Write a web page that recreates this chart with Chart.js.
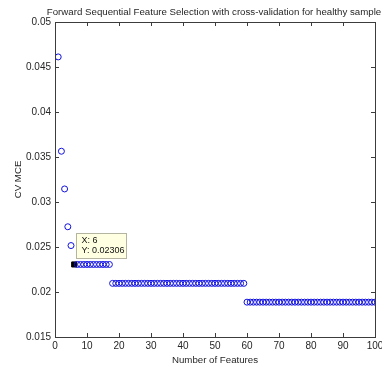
<!DOCTYPE html>
<html>
<head>
<meta charset="utf-8">
<script src="https://cdn.jsdelivr.net/npm/chart.js@4.4.1/dist/chart.umd.min.js"></script>
<style>
  html, body { margin: 0; padding: 0; background: #fff; }
  #wrap { width: 382px; height: 367px; position: relative; }
</style>
</head>
<body>
<div id="wrap"><canvas id="fsChart" width="382" height="367"></canvas></div>
<script>
// -------------------------
// Data
// -------------------------
const chartTitle = "Forward Sequential Feature Selection with cross-validation for healthy sample";

const featureCounts = [
    1, 2, 3, 4, 5, 6, 7, 8, 9, 10,
    11, 12, 13, 14, 15, 16, 17, 18, 19, 20,
    21, 22, 23, 24, 25, 26, 27, 28, 29, 30,
    31, 32, 33, 34, 35, 36, 37, 38, 39, 40,
    41, 42, 43, 44, 45, 46, 47, 48, 49, 50,
    51, 52, 53, 54, 55, 56, 57, 58, 59, 60,
    61, 62, 63, 64, 65, 66, 67, 68, 69, 70,
    71, 72, 73, 74, 75, 76, 77, 78, 79, 80,
    81, 82, 83, 84, 85, 86, 87, 88, 89, 90,
    91, 92, 93, 94, 95, 96, 97, 98, 99, 100
];

const cvMce = [
    0.04612, 0.03564, 0.03145, 0.02725, 0.02516, 0.02306, 0.02306, 0.02306, 0.02306, 0.02306,
    0.02306, 0.02306, 0.02306, 0.02306, 0.02306, 0.02306, 0.02306, 0.02096, 0.02096, 0.02096,
    0.02096, 0.02096, 0.02096, 0.02096, 0.02096, 0.02096, 0.02096, 0.02096, 0.02096, 0.02096,
    0.02096, 0.02096, 0.02096, 0.02096, 0.02096, 0.02096, 0.02096, 0.02096, 0.02096, 0.02096,
    0.02096, 0.02096, 0.02096, 0.02096, 0.02096, 0.02096, 0.02096, 0.02096, 0.02096, 0.02096,
    0.02096, 0.02096, 0.02096, 0.02096, 0.02096, 0.02096, 0.02096, 0.02096, 0.02096, 0.01887,
    0.01887, 0.01887, 0.01887, 0.01887, 0.01887, 0.01887, 0.01887, 0.01887, 0.01887, 0.01887,
    0.01887, 0.01887, 0.01887, 0.01887, 0.01887, 0.01887, 0.01887, 0.01887, 0.01887, 0.01887,
    0.01887, 0.01887, 0.01887, 0.01887, 0.01887, 0.01887, 0.01887, 0.01887, 0.01887, 0.01887,
    0.01887, 0.01887, 0.01887, 0.01887, 0.01887, 0.01887, 0.01887, 0.01887, 0.01887, 0.01887
];

// data tip on feature 6
const tipIndex = 5;
const tipLines = ["X: 6", "Y: 0.02306"];

const xTicks = [0, 10, 20, 30, 40, 50, 60, 70, 80, 90, 100];
const xTickLabels = ["0", "10", "20", "30", "40", "50", "60", "70", "80", "90", "100"];
const yTicks = [0.015, 0.02, 0.025, 0.03, 0.035, 0.04, 0.045, 0.05];
const yTickLabels = ["0.015", "0.02", "0.025", "0.03", "0.035", "0.04", "0.045", "0.05"];

// -------------------------
// Styling
// -------------------------
const FONT = "'Liberation Sans', Arial, sans-serif";
const TEXT = "#262626";
const AXIS = "#3c3c3c";

const circlePoints = featureCounts.map((x, i) => ({ x: x, y: cvMce[i] }));
const circleRadius = featureCounts.map((x, i) => i === tipIndex ? 0 : 3);

// -------------------------
// MATLAB style box + inside ticks + title + datatip
// -------------------------
const matlabAxes = {
    id: "matlabAxes",
    afterDraw(chart) {
        const ctx = chart.ctx;
        const a = chart.chartArea;
        const xs = chart.scales.x;
        const ys = chart.scales.y;
        const len = 4;

        ctx.save();
        ctx.strokeStyle = AXIS;
        ctx.lineWidth = 1;
        ctx.strokeRect(Math.round(a.left) + 0.5, Math.round(a.top) + 0.5,
            Math.round(a.right - a.left), Math.round(a.bottom - a.top));

        ctx.beginPath();
        xTicks.forEach(v => {
            const px = Math.round(xs.getPixelForValue(v)) + 0.5;
            ctx.moveTo(px, a.bottom); ctx.lineTo(px, a.bottom - len);
            ctx.moveTo(px, a.top); ctx.lineTo(px, a.top + len);
        });
        yTicks.forEach(v => {
            const py = Math.round(ys.getPixelForValue(v)) + 0.5;
            ctx.moveTo(a.left, py); ctx.lineTo(a.left + len, py);
            ctx.moveTo(a.right, py); ctx.lineTo(a.right - len, py);
        });
        ctx.stroke();

        // title
        ctx.fillStyle = TEXT;
        ctx.font = "9.7px " + FONT;
        ctx.textAlign = "center";
        ctx.textBaseline = "middle";
        ctx.fillText(chartTitle, (a.left + a.right) / 2 - 1, 12);

        // datatip
        const el = chart.getDatasetMeta(1).data[0];
        if (el) {
            const bx = Math.round(el.x) + 2.5;
            const by = Math.round(el.y) - 30.5;
            ctx.fillStyle = "#ffffe1";
            ctx.strokeStyle = "#b4b4a0";
            ctx.fillRect(bx, by, 50, 25);
            ctx.strokeRect(bx, by, 50, 25);
            ctx.fillStyle = "#111";
            ctx.font = "9px " + FONT;
            ctx.textAlign = "left";
            ctx.fillText(tipLines[0], bx + 5, by + 7.5);
            ctx.fillText(tipLines[1], bx + 5, by + 17.5);
        }
        ctx.restore();
    }
};

// -------------------------
// Chart
// -------------------------
new Chart(document.getElementById("fsChart"), {
    type: "scatter",
    data: {
        datasets: [{
            data: circlePoints,
            pointStyle: "circle",
            pointRadius: circleRadius,
            pointBorderColor: "#1010e0",
            pointBackgroundColor: "rgba(0,0,0,0)",
            pointBorderWidth: 1
        }, {
            data: [{ x: featureCounts[tipIndex], y: cvMce[tipIndex] }],
            pointStyle: "rect",
            pointRadius: 3.6,
            pointBorderColor: "#000",
            pointBackgroundColor: "#000",
            pointBorderWidth: 1
        }]
    },
    options: {
        responsive: false,
        animation: false,
        layout: { padding: { top: 22, right: 7, left: 0, bottom: 0 } },
        plugins: {
            legend: { display: false },
            tooltip: { enabled: false },
            title: { display: false }
        },
        scales: {
            x: {
                type: "linear",
                min: 0,
                max: 100,
                afterBuildTicks: s => { s.ticks = xTicks.map(v => ({ value: v })); },
                afterFit: s => { s.height = 30; s.paddingLeft = 0; s.paddingRight = 0; },
                grid: { display: false, drawTicks: false, tickLength: 0 },
                border: { display: false },
                ticks: {
                    color: TEXT,
                    font: { family: FONT, size: 10 },
                    padding: 3,
                    maxRotation: 0,
                    autoSkip: false,
                    callback: (v, i) => xTickLabels[i]
                },
                title: {
                    display: true,
                    text: "Number of Features",
                    color: TEXT,
                    font: { family: FONT, size: 9.7 },
                    padding: { top: 0, bottom: 1 }
                }
            },
            y: {
                type: "linear",
                min: 0.015,
                max: 0.05,
                afterBuildTicks: s => { s.ticks = yTicks.map(v => ({ value: v })); },
                afterFit: s => { s.width = 55; },
                grid: { display: false, drawTicks: false, tickLength: 0 },
                border: { display: false },
                ticks: {
                    color: TEXT,
                    font: { family: FONT, size: 10 },
                    padding: 4,
                    autoSkip: false,
                    callback: (v, i) => yTickLabels[i]
                },
                title: {
                    display: true,
                    text: "CV MCE",
                    color: TEXT,
                    font: { family: FONT, size: 9.7 },
                    padding: { top: 13, bottom: 0 }
                }
            }
        }
    },
    plugins: [matlabAxes]
});
</script>
</body>
</html>
